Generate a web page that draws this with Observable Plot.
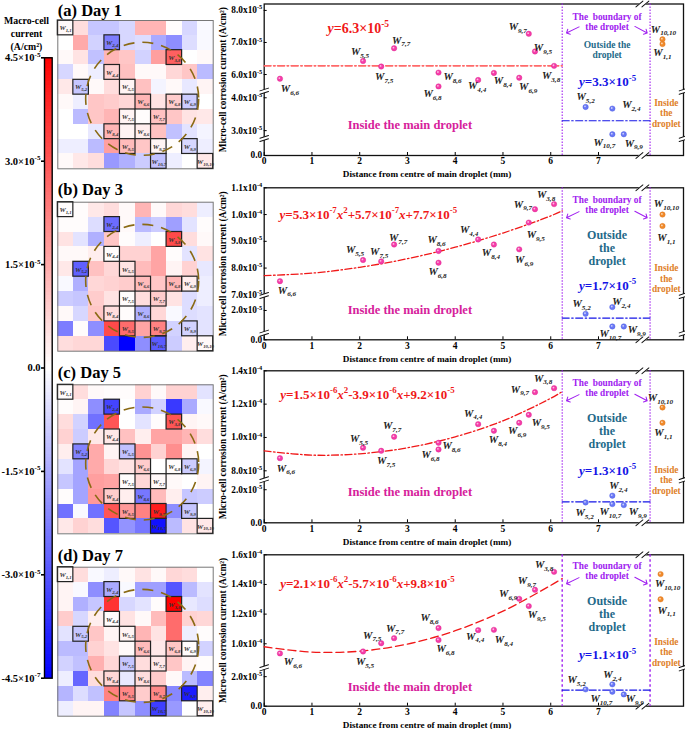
<!DOCTYPE html>
<html><head><meta charset="utf-8">
<script src="https://cdn.jsdelivr.net/npm/d3@7"></script>
<script src="https://cdn.jsdelivr.net/npm/@observablehq/plot@0.6"></script>
<style>html,body{margin:0;padding:0;background:#fff}#fig{position:relative;width:685px;height:729px;overflow:hidden}</style>
</head><body><div id="fig"></div>
<script>
// ---------- DATA (currents in units of 1e-5 A/cm2) ----------
const pointNames = ["6,6","5,5","7,5","7,7","8,6","6,8","4,4","8,4","6,9","9,7","9,5","3,8"];
const outsideNames = ["5,2","2,4","10,7","9,9"];
const edgeNames = ["10,10","1,1"];
const xInsideA = [0.33,2.07,2.45,2.72,3.65,3.65,4.48,4.81,5.34,5.54,5.67,6.07];
const xInsideB = [0.33,2.07,2.45,2.72,3.65,3.65,4.48,4.81,5.34,5.67,5.54,6.07];
const xOutside = [6.73,7.29,7.29,7.53];
const xEdge = [8.34,8.34];

const day1Inside = [5.87,6.42,6.25,6.82,6.06,5.63,5.83,6.05,5.90,7.27,6.72,6.27];
const day3Inside = [7.51,8.30,8.25,8.88,8.64,8.20,9.07,8.88,8.70,10.2,9.70,10.39];
const day5Inside = [8.76,9.38,9.20,10.04,9.68,9.28,10.8,10.4,10.88,12.72,11.36,12.96];
const day7Inside = [9.35,9.48,10.04,10.38,11.06,10.25,10.92,10.94,13.03,13.64,12.54,14.85];
const day1Outside = [3.72,3.67,2.89,2.89];
const day3Outside = [1.77,2.23,0.91,0.91];
const day5Outside = [1.23,1.64,1.13,1.07];
const day7Outside = [1.14,1.48,0.98,0.80];
const day1Edge = [7.10,6.95];
const day3Edge = [10.0,9.57];
const day5Edge = [11.8,10.88];
const day7Edge = [14.7,13.0];

const fitX = [0,1,2,3,4,5,6,6.24];
const day1Fit = [6.27,6.27,6.27,6.27,6.27,6.27,6.27,6.27];
const day3Fit = [7.72,7.81,8.03,8.35,8.78,9.31,9.95,10.14];
const day5Fit = [9.2,8.94,9.02,9.38,10.04,11.0,12.35,12.75];
const day7Fit = [9.8,9.44,9.5,9.98,10.88,12.2,13.94,14.4];
const day1Out = 3.3, day3Out = 1.48, day5Out = 1.27, day7Out = 1.09;

const day1Ticks = [0,3,4,6,7,8];
const day1TickLabels = ["0.0","3.0x10^{-5}","4.0x10^{-5}","6.0x10^{-5}","7.0x10^{-5}","8.0x10^{-5}"];
const day3Ticks = [0,2,7,8,9,10,11];
const day3TickLabels = ["0.0","2.0x10^{-5}","7.0x10^{-5}","8.0x10^{-5}","9.0x10^{-5}","1.0x10^{-4}","1.1x10^{-4}"];
const day5Ticks = [0,2,8,10,12,14];
const day5TickLabels = ["0.0","2.0x10^{-5}","8.0x10^{-5}","1.0x10^{-4}","1.2x10^{-4}","1.4x10^{-4}"];
const day7Ticks = [0,2,10,12,14,16];
const day7TickLabels = ["0.0","2.0x10^{-5}","1.0x10^{-4}","1.2x10^{-4}","1.4x10^{-4}","1.6x10^{-4}"];
const xTicks = [0,1,2,3,4,5,6,7];

const markedCells = [[1,1],[2,4],[3,8],[4,4],[5,2],[5,5],[6,6],[6,8],[6,9],[7,5],[7,7],[8,4],[8,6],[9,5],[9,7],[9,9],[10,7],[10,10]];
const barTicks = [4.5,3,1.5,0,-1.5,-3,-4.5];
const barTickLabels = ["4.5×10^{-5}","3.0×10^{-5}","1.5×10^{-5}","0.0","-1.5×10^{-5}","-3.0×10^{-5}","-4.5×10^{-7}"];

const day1Grid = [
[.1,.6,-1,-1,-.7,1.3,1.3,.05,-.7,-.1],
[0,1.5,-.8,-2.3,-.7,-.6,-1.5,-2,-.6,-.1],
[.1,.5,-1.1,1.3,1,-.8,1.7,2.8,0,.1],
[-.7,.1,-.3,.8,1.1,.1,.1,.7,1,-1.2],
[.4,-1,.1,.6,.2,1.1,-.2,.1,-.4,.2],
[.1,-.3,1,.9,.7,1.3,.5,.9,-.9,0],
[0,-1.2,1,1.3,.2,.05,1.1,1,.5,.4],
[0,0,-.4,1.3,.2,.3,1.1,-1.1,-.5,-.2],
[-.3,-.3,-1.2,1.7,1.2,1,.2,.05,-.7,-.3],
[.1,.4,.6,-1.8,-1.4,-.9,-1.1,-.3,0,.4]];
const day3Grid = [
[.05,.05,.4,.6,.1,1.3,.1,.7,.6,-.3],
[.05,.05,-.6,-2.6,.1,-1.2,-.9,-1.7,-.5,.05],
[.5,-.5,-1.4,1,.05,-.3,0,3.2,.6,.1],
[.1,.1,.3,.05,.8,.8,1.6,.05,-.5,.5],
[.4,-2.8,1.1,.7,.5,1.2,1.6,.2,.8,-.4],
[-.1,-1.4,.7,.8,.9,1.2,1,1.3,.3,-.3],
[-.9,-1,.9,.5,.05,.6,.9,.5,-.6,-.3],
[.1,-.7,1,.6,.05,-1.4,.7,-.1,-.6,-.5],
[-2.3,.05,-2,3.2,2.6,1.6,2.2,-.8,-.8,-.5],
[.6,.7,.7,-3.2,-4.5,-2,-2.9,-.9,.3,.1]];
const day5Grid = [
[.05,.6,.1,.05,.05,.8,.1,.8,.8,-.5],
[.05,.2,-2,-3.3,0,-1.5,-.8,-3.5,-1.5,-.1],
[.6,-.8,-2.5,3,0,-.5,.05,3,.2,.1],
[.8,-.9,.4,.4,1.1,.3,1.6,1.6,1.3,.6],
[.3,-2.2,1.5,.2,-1.1,1.9,.8,2,.2,0],
[-.5,-1.6,1.5,.7,.5,.9,0,.05,-.9,-.2],
[-1,-1.6,1.7,1.6,.05,.7,.1,.1,0,.2],
[.05,-1.6,1.8,.9,.3,-2.4,1.2,.3,-1,-.9],
[-2.5,-.1,-2.5,3,1.8,2.2,4,-2,-1,0],
[.4,.8,.6,-3,-1.9,-2.4,-4.2,-1.2,.5,.4]];
const day7Grid = [
[.1,.6,-.1,-.3,.1,.5,.1,.7,.6,0],
[.2,-.1,-2,-1.5,-.1,-1.7,-1.7,-3,-1.2,-.5],
[.2,-1.4,-1,3.6,-.7,-.5,.05,4.5,-.4,-.6],
[.9,-.7,.3,.05,.5,.1,1.2,2.6,.8,.7],
[-.5,-1,1,.2,.2,1.3,.5,2.6,-.3,.05],
[-1.2,-1.2,.8,.5,.1,1.2,.4,1,.05,-.8],
[-.8,-1.1,1.4,.7,-1,.6,.4,1,.2,.05],
[-.3,-2.7,.6,.7,-.4,.6,.9,.1,-1.2,-2.2],
[-1.3,-.6,-1.1,2.2,2.1,.9,2.1,-2.1,-4,.3],
[-.3,.2,.2,-2.2,-1,-2,-3.4,-1.8,0,.3]];

// ---------- LAYOUT ----------
const W = 685, H = 729;
const SERIF = "'Liberation Serif','Times New Roman',serif";
const fig = document.getElementById("fig");
const baseStyle = {position:"absolute",left:"0",top:"0",background:"transparent",overflow:"visible",
  fontFamily:SERIF,fontWeight:"bold",fontSize:"9.5px",color:"#000",maxWidth:"none"};

// label offsets, in px, same order as inside + outside + edge names
const labelOffsets = {
 a:[[10,10],[-3,-9],[3,10],[7,-8],[14,4],[-6,7],[-1,6],[9,8],[9,9],[-11,-7],[8,-4],[-3,10],[0,-10],[19,-4],[-8,8],[10,9],[1,-10],[0,9]],
 b:[[7,9],[-8,-10],[-2,-10],[4,-7],[-2,-11],[-1,9],[-9,-10],[-3,8],[5,10],[-12,-5],[7,12],[-8,-9],[-4,-10],[9,-5],[-2,7],[13,3],[4,-11],[4,12]],
 c:[[6,10],[-4,-9],[5,10],[-2,-11],[13,3],[-8,5],[-5,-11],[4,9],[-2,8],[-15,-3],[12,8],[-11,-10],[-1,10],[6,-10],[-2,8],[14,7],[-2,-10],[1,10]],
 d:[[13,8],[2,10],[-9,-8],[1,-10],[-9,-10],[7,9],[-3,6],[10,10],[-11,-5],[-8,-9],[8,9],[-10,-7],[-9,-10],[0,-10],[-11,7],[11,4],[7,10],[6,11]]
};

const panels = [
 {key:"a",title:"(a) Day 1",grid:day1Grid,gTop:20,gBot:168.3,titleY:15,
  inside:day1Inside,xIn:xInsideA,outside:day1Outside,edge:day1Edge,fit:day1Fit,out:day1Out,ticks:day1Ticks,tickLabels:day1TickLabels,
  top:3.5,bot:155,domain:[0,2.76,4.2,5.48,8.2],range:[155,138,90.7,90.7,3.5],breaks:[2.76,4.2],
  eq:"~y=6.3×10^{-5}",eqX:1.97,eqY:24.8,eqSize:14,outEq:"~y=3.3×10^{-5}",outEqY:78,mainY:121,
  outsideText:"Outside the\ndroplet",outsideY:45.5,outsideSize:9.5,boundY:17.5,arrowY:29,insideY:109,thickFit:true,edgeX:8.34},
 {key:"b",title:"(b) Day 3",grid:day3Grid,gTop:201.7,gBot:350.7,titleY:194,
  inside:day3Inside,xIn:xInsideB,outside:day3Outside,edge:day3Edge,fit:day3Fit,out:day3Out,ticks:day3Ticks,tickLabels:day3TickLabels,
  top:187.3,bot:339.3,domain:[0,3.02,6.975,11],range:[339.3,295,295,187.3],breaks:[0.45,3.02],
  eq:"~y=5.3×10^{-7}~x^{2}+5.7×10^{-7}~x+7.7×10^{-5}",eqX:2.18,eqY:26.7,eqSize:13,outEq:"~y=1.7×10^{-5}",outEqY:98,mainY:122,
  outsideText:"Outside\nthe\ndroplet",outsideY:60,outsideSize:12,boundY:17,arrowY:30,insideY:90.5,edgeX:8.34},
 {key:"c",title:"(c) Day 5",grid:day5Grid,gTop:384.3,gBot:533.3,titleY:377,
  inside:day5Inside,xIn:xInsideB,outside:day5Outside,edge:day5Edge,fit:day5Fit,out:day5Out,ticks:day5Ticks,tickLabels:day5TickLabels,
  top:370.3,bot:522.3,domain:[0,2.6,7.46,14],range:[522.3,479.3,479.3,370.3],breaks:[2.6],
  eq:"~y=1.5×10^{-6}~x^{2}-3.9×10^{-6}~x+9.2×10^{-5}",eqX:2.16,eqY:23.7,eqSize:13,outEq:"~y=1.3×10^{-5}",outEqY:99.7,mainY:121.4,
  outsideText:"Outside\nthe\ndroplet",outsideY:60,outsideSize:12,boundY:17,arrowY:30,insideY:109,edgeX:8.34},
 {key:"d",title:"(d) Day 7",grid:day7Grid,gTop:566.7,gBot:715.7,titleY:560,
  inside:day7Inside,xIn:xInsideB,outside:day7Outside,edge:day7Edge,fit:day7Fit,out:day7Out,ticks:day7Ticks,tickLabels:day7TickLabels,
  top:554.3,bot:705.7,domain:[0,2.6,8.38,16],range:[705.7,667.3,667.3,554.3],breaks:[2.6],
  eq:"~y=2.1×10^{-6}~x^{2}-5.7×10^{-6}~x+9.8×10^{-5}",eqX:2.16,eqY:29,eqSize:13,outEq:"~y=1.1×10^{-5}",outEqY:100.4,mainY:132.4,
  outsideText:"Outside\nthe\ndroplet",outsideY:59,outsideSize:12,boundY:16,arrowY:29,insideY:97,dashedFit:true,strongBound:true,edgeX:8.3}
];

// rich text: ^{sup}, _{sub}, ~x italic
function richText(svg){
  d3.select(svg).selectAll("text").each(function(){
    const t = this, s = t.textContent;
    if (!/\^\{|_\{|~/.test(s) || t.querySelector("tspan")) {
      if (!/\^\{|_\{|~/.test(s)) return;
    }
    t.textContent = "";
    const parts = s.split(/(\^\{[^}]*\}|_\{[^}]*\}|~.)/).filter(p=>p!=="");
    let reset = 0;
    const ns = "http://www.w3.org/2000/svg";
    for (const p of parts){
      const el = document.createElementNS(ns,"tspan");
      if (p[0]==="^"||p[0]==="_"){
        const sup = p[0]==="^";
        el.textContent = p.slice(2,-1);
        el.setAttribute("font-size","68%");
        el.setAttribute("dy",(sup?-0.62:0.4)+"em");
        reset = sup?0.42:-0.27;
      } else {
        if (p[0]==="~"){ el.textContent = p[1]; el.setAttribute("font-style","italic"); }
        else el.textContent = p;
        if (reset){ el.setAttribute("dy",reset+"em"); reset = 0; }
      }
      t.appendChild(el);
    }
  });
}
function add(svg){ richText(svg); fig.appendChild(svg); }

const sliceLine = {draw(c,l){c.moveTo(0,0);c.lineTo(0,-l);}};
const gX0=57.3, gX1=212.7;

// ---------- COLOURBAR & side title ----------
add(Plot.plot({width:W,height:H,marginLeft:44,marginRight:W-51.7,marginTop:57.3,marginBottom:H-677.7,style:baseStyle,
  x:{domain:[0,1],range:[44,51.7],axis:null},
  y:{domain:[-4.5,4.5],range:[677.7,57.3],axis:null},
  color:{type:"linear",domain:[-4.5,0,4.5],range:["#0000ff","#ffffff","#ff0000"],interpolate:"rgb",clamp:true},
  marks:[
    Plot.rect(d3.range(-4.5,4.5,0.05),{x1:0,x2:1,y1:d=>d,y2:d=>d+0.055,fill:d=>d+0.025,shapeRendering:"crispEdges"}),
    Plot.frame({stroke:"#000",strokeWidth:1.4}),
    Plot.axisY({ticks:barTicks,tickFormat:d=>barTickLabels[barTicks.indexOf(d)],tickSize:3,tickPadding:1,strokeWidth:1.6,fontSize:10.5,label:null}),
    Plot.text(["Macro-cell\ncurrent\n(A/cm²)"],{frameAnchor:"top",x:0,dx:-18,dy:-25,lineAnchor:"middle",fontSize:9.8,lineHeight:1.32,textAnchor:"middle"})
  ]}));

// ---------- PANELS ----------
for (const p of panels){
  // heatmap
  const cells = p.grid.flatMap((row,r)=>row.map((v,c)=>({r,c,v})));
  const gridPlot = Plot.plot({width:W,height:H,marginLeft:gX0,marginRight:W-gX1,marginTop:p.gTop,marginBottom:H-p.gBot,style:baseStyle,
    x:{domain:[0,10],range:[gX0,gX1],axis:null},
    y:{domain:[0,10],range:[p.gTop,p.gBot],axis:null},
    color:{type:"linear",domain:[-4.5,0,4.5],range:["#0000ff","#ffffff","#ff0000"],interpolate:"rgb",clamp:true},
    marks:[
      Plot.rect(cells,{x1:d=>d.c,x2:d=>d.c+1,y1:d=>d.r,y2:d=>d.r+1,fill:"v",shapeRendering:"crispEdges"}),
      Plot.frame({stroke:"#777",strokeWidth:1}),
      Plot.rect(markedCells,{x1:d=>d[1]-1,x2:d=>d[1],y1:d=>d[0]-1,y2:d=>d[0],fill:"none",stroke:"#222",strokeWidth:1.2}),
      Plot.text(markedCells,{x:d=>d[1]-.5,y:d=>d[0]-.5,text:d=>`W_{${d[0]},${d[1]}}`,fontSize:7,fontStyle:"italic",fill:"#333"}),
      Plot.dot([[5.43,5.28]],{x:d=>d[0],y:d=>d[1],r:56.5,fill:"none",stroke:"#8a6a14",strokeWidth:1.6,strokeDasharray:"11 8"}),
      Plot.text([p.title],{frameAnchor:"top-left",dy:p.titleY-p.gTop,lineAnchor:"bottom",fontSize:16.5,letterSpacing:0.2})
    ]});
  add(gridPlot);

  // scatter
  const off = labelOffsets[p.key];
  const inside = p.inside.map((y,i)=>({x:p.xIn[i],y,name:pointNames[i],o:off[i]}));
  const outside = p.outside.map((y,i)=>({x:xOutside[i],y,name:outsideNames[i],o:off[12+i]}));
  const edge = p.edge.map((y,i)=>({x:p.edgeX,y,name:edgeNames[i],o:off[16+i]}));
  const fit = fitX.map((x,i)=>({x,y:p.fit[i]}));
  const X0=263.7, X1=683, XMAX=8.78;
  const purple="#a020f0", teal="#1f6a8a", orange="#e0812a", magenta="#d6219b";
  const topVal=p.domain[p.domain.length-1];
  const yBreaks=p.breaks.flatMap(y=>[{x:0,y},{x:XMAX,y}]);
  const xBreaks=[{x:7.92,y:0},{x:7.92,y:topVal}];
  const bound = p.strongBound ? {strokeWidth:1.4,strokeDasharray:"2.5 2.5"} : {strokeWidth:1.1,strokeDasharray:"1.5 1.5"};
  const wLabel = d=>`W_{${d.name}}`;
  const wOpts = {x:"x",y:"y",text:wLabel,fontSize:10.5,fontStyle:"italic",fill:"#222",render:null};
  const withOffset = (rows)=>rows.map(d=>Plot.text([d],{x:"x",y:"y",text:wLabel,dx:d.o[0],dy:d.o[1],fontSize:10.5,fontStyle:"italic",fill:"#222"}));
  const dots=(rows,fill,stroke)=>[
    Plot.dot(rows,{x:"x",y:"y",r:2.7,fill,stroke,strokeWidth:0.4}),
    Plot.dot(rows,{x:"x",y:"y",r:0.9,fill:"#fff",fillOpacity:0.65,dx:-0.6,dy:-0.6})
  ];
  const sc = Plot.plot({width:W,height:H,marginLeft:X0,marginRight:W-X1,marginTop:p.top,marginBottom:H-p.bot,style:baseStyle,
    x:{domain:[0,XMAX],range:[X0,X1],axis:null},
    y:{type:"linear",domain:p.domain,range:p.range,axis:null},
    marks:[
      Plot.frame({stroke:"#111",strokeWidth:1.3}),
      Plot.axisX({ticks:xTicks,tickSize:-3,tickPadding:5,tickFormat:d=>String(d),label:null,fontSize:9.5}),
      Plot.axisY({ticks:p.ticks,tickSize:-3,tickPadding:5,tickFormat:d=>p.tickLabels[p.ticks.indexOf(d)],label:null,fontSize:9.3}),
      Plot.text(["Distance from centre of main droplet (mm)"],{x:3.41,frameAnchor:"bottom",dy:19,lineAnchor:"middle",fontSize:9.2}),
      Plot.text(["Micro-cell corrosion current (A/cm²)"],{frameAnchor:"left",dx:-41,rotate:-90,fontSize:9.3,textAnchor:"middle"}),
      // boundaries
      Plot.ruleX([6.24,8.08],{stroke:purple,...bound}),
      // axis breaks
      Plot.vector(yBreaks,{x:"x",y:"y",length:10,rotate:72,shape:sliceLine,anchor:"middle",stroke:"#fff",strokeWidth:3.2}),
      Plot.vector(yBreaks,{x:"x",y:"y",dy:-1.7,length:9,rotate:72,shape:sliceLine,anchor:"middle",stroke:"#111",strokeWidth:1}),
      Plot.vector(yBreaks,{x:"x",y:"y",dy:1.7,length:9,rotate:72,shape:sliceLine,anchor:"middle",stroke:"#111",strokeWidth:1}),
      Plot.vector(xBreaks,{x:"x",y:"y",length:9,rotate:50,shape:sliceLine,anchor:"middle",stroke:"#fff",strokeWidth:5}),
      Plot.vector(xBreaks,{x:"x",y:"y",dx:-3,length:9,rotate:50,shape:sliceLine,anchor:"middle",stroke:"#111",strokeWidth:1}),
      Plot.vector(xBreaks,{x:"x",y:"y",dx:3,length:9,rotate:50,shape:sliceLine,anchor:"middle",stroke:"#111",strokeWidth:1}),
      // fits
      Plot.line(fit,{x:"x",y:"y",curve:"catmull-rom",stroke:p.thickFit?"#ff6a6a":"#f01818",strokeWidth:p.thickFit?1.6:1.3,
        strokeDasharray:p.dashedFit?"8 4":"7 2.5 1.5 2.5"}),
      Plot.line([{x:6.24,y:p.out},{x:8.08,y:p.out}],{x:"x",y:"y",stroke:"#1414e6",strokeWidth:1.2,strokeDasharray:"7 2.5 1.5 2.5"}),
      // points
      ...dots(inside,"#f53ca8","#d81b8c"),
      ...dots(outside,"#6a78f5","#4050e0"),
      ...dots(edge,"#f08a2a","#d9701a"),
      ...withOffset(inside),...withOffset(outside),...withOffset(edge),
      // annotations
      Plot.text([p.eq],{x:p.eqX,frameAnchor:"top",dy:p.eqY,lineAnchor:"middle",fontSize:p.eqSize,fill:"#f01818"}),
      Plot.text([p.outEq],{x:7.19,frameAnchor:"top",dy:p.outEqY,lineAnchor:"middle",fontSize:13,fill:"#1414e6"}),
      Plot.text(["Inside the main droplet"],{x:3.05,frameAnchor:"top",dy:p.mainY,lineAnchor:"middle",fontSize:12.5,fill:magenta}),
      Plot.text([p.outsideText],{x:7.18,frameAnchor:"top",dy:p.outsideY,lineAnchor:"middle",fontSize:p.outsideSize,lineHeight:p.outsideSize<10?1.12:1.09,fill:teal}),
      Plot.text(["The  boundary of\nthe droplet"],{x:7.18,frameAnchor:"top",dy:p.boundY,lineAnchor:"middle",fontSize:9.3,lineHeight:1.1,fill:purple}),
      Plot.text(["Inside\nthe\ndroplet"],{x:8.42,frameAnchor:"top",dy:p.insideY,lineAnchor:"middle",fontSize:9.3,lineHeight:1.12,fill:orange}),
      Plot.vector([6.33],{x:d=>d,frameAnchor:"top",dy:p.arrowY,length:14,rotate:-116,anchor:"end",stroke:purple,strokeWidth:1}),
      Plot.vector([8.02],{x:d=>d,frameAnchor:"top",dy:p.arrowY,length:14,rotate:118,anchor:"end",stroke:purple,strokeWidth:1})
    ]});
  add(sc);
}
</script></body></html>
